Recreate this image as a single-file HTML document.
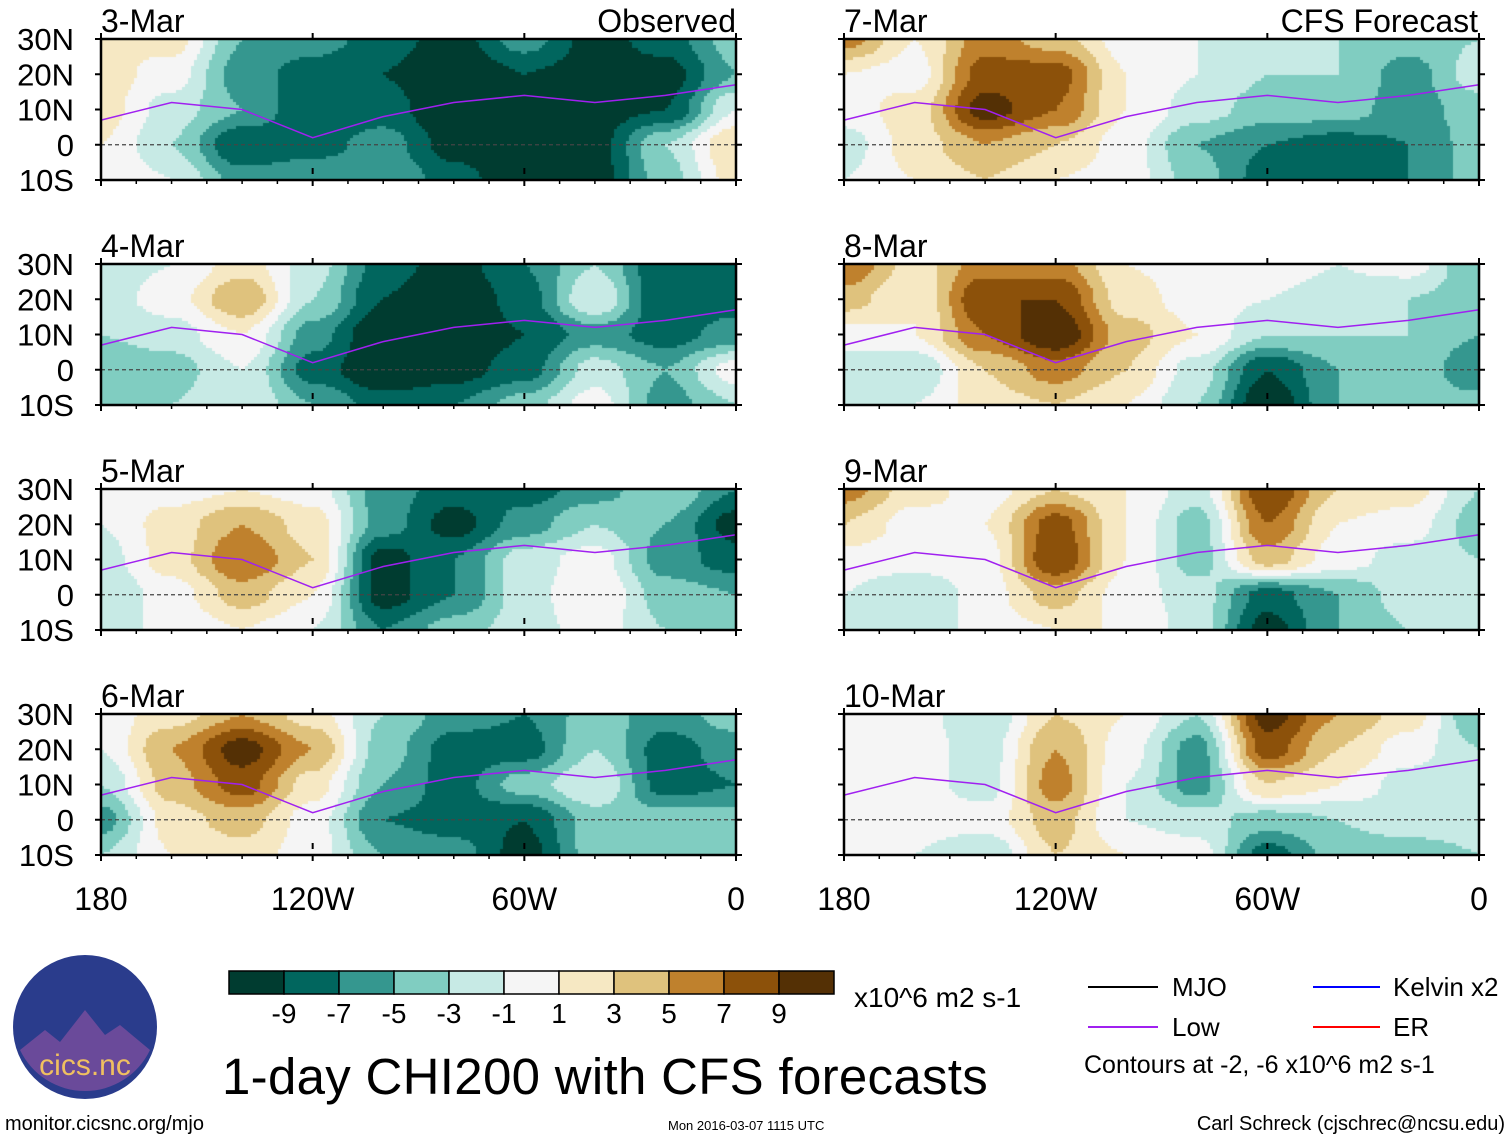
<!DOCTYPE html>
<html><head><meta charset="utf-8">
<style>
body{margin:0;background:#fff;width:1510px;height:1142px;position:relative;overflow:hidden;font-family:"Liberation Sans",sans-serif;}
.t{position:absolute;white-space:nowrap;color:#000;line-height:1;}
canvas{position:absolute;}
</style></head><body>
<canvas id="cv" width="1510" height="1142"></canvas>
<svg id="ov" width="1510" height="1142" style="position:absolute;left:0;top:0"></svg>

<div class="t" style="left:5px;top:1114px;font-size:20px">monitor.cicsnc.org/mjo</div>
<div class="t" style="left:668px;top:1119px;font-size:13px">Mon 2016-03-07 1115 UTC</div>
<div class="t" style="right:5px;top:1114px;font-size:20px">Carl Schreck (cjschrec@ncsu.edu)</div>
<div class="t" style="left:222px;top:1051px;font-size:51px;letter-spacing:0.3px">1-day CHI200 with CFS forecasts</div>
<div class="t" style="left:854px;top:984px;font-size:28px">x10^6 m2 s-1</div>
<div class="t" style="left:1172px;top:974px;font-size:26px">MJO</div>
<div class="t" style="left:1393px;top:974px;font-size:26px">Kelvin x2</div>
<div class="t" style="left:1172px;top:1014px;font-size:26px">Low</div>
<div class="t" style="left:1393px;top:1014px;font-size:26px">ER</div>
<div class="t" style="left:1084px;top:1053px;font-size:25px">Contours at -2, -6 x10^6 m2 s-1</div>

<script>
const lons=[180,160,140,120,100,80,60,40,20,0]; // degrees west
const lats=[30,20,10,0,-10];
const levelLabels=[-9,-7,-5,-3,-1,1,3,5,7,9];
const palette=["#003c30","#01665e","#35978f","#80cdc1","#c7eae5","#f5f5f5","#f6e8c3","#dfc27d","#bf812d","#8c510a","#543005"];
const dayLabels=["3-Mar","4-Mar","5-Mar","6-Mar","7-Mar","8-Mar","9-Mar","10-Mar"];
const p1=[[1,2,-5,-6,-8,-10,-6,-10,-8,-4],[2,0,-6,-8,-9,-11,-9,-10,-10,-5],[2,-2,-5,-9,-8,-11,-10,-10,-9,-1],[1,-3,-9,-8,-6,-10,-11,-10,-3,3],[1,-1,-6,-5,-5,-8,-11,-10,-4,2]];
const p2=[[-2,-1,2,-2,-8,-10,-7,-3,-9,-7],[-2,0,5,-3,-9,-11,-8,-1,-9,-8],[-3,-2,1,-6,-11,-11,-9,-6,-8,-6],[-5,-4,-1,-8,-11,-10,-8,-2,-5,0],[-3,-3,-1,-5,-8,-7,-4,0,-6,-3]];
const p3=[[0,0,1,0,-6,-8,-8,-6,-3,-7],[-1,2,5,2,-6,-10,-6,-3,-5,-10],[-2,2,7,3,-10,-7,-2,0,-6,-8],[-3,0,4,1,-10,-7,-2,1,-4,-5],[-1,-1,1,-1,-7,-4,-2,0,-3,-4]];
const p4=[[0,2,5,2,-3,-6,-7,-4,-6,-4],[-1,5,10,5,-4,-8,-8,-3,-8,-6],[-3,4,8,2,-5,-8,-4,-1,-8,-7],[-6,2,4,0,-7,-8,-9,-4,-4,-4],[-3,1,2,0,-5,-6,-10,-4,-4,-4]];
const p5=[[6,1,6,4,0,-1,-2,-3,-4,-3],[1,0,8,8,1,-1,-3,-3,-6,-2],[0,2,10,7,1,-2,-4,-4,-6,-4],[-2,2,5,3,0,-5,-7,-8,-7,-4],[-1,1,3,1,0,-4,-8,-8,-7,-4]];
const p6=[[7,2,6,6,1,0,0,-1,0,-5],[4,1,9,9,2,0,-1,-2,-3,-4],[0,1,7,11,4,1,-3,-3,-3,-5],[-2,-3,3,6,3,-2,-9,-5,-3,-7],[-1,-1,2,3,1,-3,-11,-5,-4,-4]];
const p7=[[6,2,0,3,1,-2,9,3,2,-3],[3,0,1,8,1,-4,7,1,0,-4],[0,0,0,9,1,-4,4,0,-2,-3],[-1,-3,0,4,0,-2,-8,-5,-2,-3],[-1,-3,0,1,1,-2,-10,-5,-3,-2]];
const p8=[[0,0,-3,3,1,-3,10,5,2,-5],[0,0,-2,5,0,-6,8,3,0,-3],[0,0,-2,6,-1,-6,3,1,-2,-3],[0,0,0,4,-1,-2,-4,-3,-2,-2],[-1,-1,-3,3,1,0,-8,-4,-4,-3]];
const lowLat=[7,12,10,2,8,12,14,12,14,17]; // purple "Low" line latitude per lon
const panels=[p1,p2,p3,p4,p5,p6,p7,p8];

const colX=[101,844], W=635, rowY=[39,264,489,714], H=141;
const ctx=document.getElementById('cv').getContext('2d');
const svg=document.getElementById('ov');
const NS="http://www.w3.org/2000/svg";
function xOf(c,lonW){return colX[c]+(180-lonW)/180*W;}
function yOf(r,lat){return rowY[r]+(30-lat)/40*H;}
function sm(t){return t*t*(3-2*t);}
function val(g,lonW,lat){
  let fi=(180-lonW)/20, fj=(30-lat)/10;
  let i=Math.min(Math.floor(fi),8), j=Math.min(Math.floor(fj),3);
  let a=sm(fi-i),b=sm(fj-j);
  return g[j][i]*(1-a)*(1-b)+g[j][i+1]*a*(1-b)+g[j+1][i]*(1-a)*b+g[j+1][i+1]*a*b;
}
function idx(v){return Math.max(0,Math.min(10,Math.floor((v+11)/2)));}
function mk(tag,attrs,name){const e=document.createElementNS(NS,tag);for(const k in attrs)e.setAttribute(k,attrs[k]);
  
  
  svg.appendChild(e);return e;}
function txt(x,y,s,size,anchor,name){const e=mk('text',{x:x,y:y,'font-size':size,'text-anchor':anchor,'font-family':'Liberation Sans, sans-serif'},name);e.textContent=s;return e;}

panels.forEach((g,p)=>{
  const c=p<4?0:1, r=p%4;
  const step=3;
  for(let px=0;px<W;px+=step){for(let py=0;py<H;py+=step){
    const lonW=180-(px+step/2)/W*180, lat=30-(py+step/2)/H*40;
    ctx.fillStyle=palette[idx(val(g,lonW,lat))];
    ctx.fillRect(colX[c]+px,rowY[r]+py,step,step);
  }}
  let d=lons.map((l,i)=>(i?'L':'M')+xOf(c,l).toFixed(1)+','+yOf(r,lowLat[i]).toFixed(1)).join(' ');
  mk('path',{d:d,fill:'none',stroke:'#a020f0','stroke-width':1.5},'low-contour');
  mk('line',{x1:colX[c],x2:colX[c]+W,y1:yOf(r,0),y2:yOf(r,0),stroke:'#444','stroke-dasharray':'4,3','stroke-width':1.2},'equator-line');
  mk('rect',{x:colX[c],y:rowY[r],width:W,height:H,fill:'none',stroke:'#000','stroke-width':2.5},'panel-frame');
  for(let l=0;l<=180;l+=60){const x=xOf(c,l);
    mk('line',{x1:x,x2:x,y1:rowY[r]-6,y2:rowY[r]+H+6,stroke:'#000','stroke-width':2,'stroke-dasharray':'6,'+(H-12)+',6'},'x-tick');}
  for(let l=170;l>=0;l-=10){if(l%60){const x=xOf(c,l);
    mk('line',{x1:x,x2:x,y1:rowY[r]+H,y2:rowY[r]+H+4,stroke:'#000','stroke-width':1.5},'x-minor-tick');}}
  lats.forEach(la=>{const y=yOf(r,la);
    mk('line',{x1:colX[c]-6,x2:colX[c],y1:y,y2:y,stroke:'#000','stroke-width':2},'y-tick');
    mk('line',{x1:colX[c]+W,x2:colX[c]+W+6,y1:y,y2:y,stroke:'#000','stroke-width':2},'y-tick');
    if(c===0) txt(74,y+11,la>0?la+'N':la<0?(-la)+'S':'0',31,'end','y-tick-label');
  });
  txt(colX[c],rowY[r]-7,dayLabels[p],32,'start','day-label');
});
txt(736,32,'Observed',32,'end','observed-header');
txt(1478,32,'CFS Forecast',32,'end','forecast-header');
[0,1].forEach(c=>{[180,120,60,0].forEach(l=>{
  txt(xOf(c,l),910,l===180?'180':l===0?'0':l+'W',32,'middle','x-tick-label');});});
palette.forEach((col,i)=>{mk('rect',{x:229+i*55,y:971,width:55,height:23,fill:col,stroke:'#000','stroke-width':1.5},'colorbar-box');});
levelLabels.forEach((v,i)=>{txt(229+(i+1)*55,1023,String(v),28,'middle','colorbar-label');});
mk('line',{x1:1088,x2:1158,y1:987,y2:987,stroke:'#000','stroke-width':2},'legend-mjo-line');
mk('line',{x1:1313,x2:1380,y1:987,y2:987,stroke:'#0000ff','stroke-width':2},'legend-kelvin-line');
mk('line',{x1:1088,x2:1158,y1:1027,y2:1027,stroke:'#a020f0','stroke-width':2},'legend-low-line');
mk('line',{x1:1313,x2:1380,y1:1027,y2:1027,stroke:'#ff0000','stroke-width':2},'legend-er-line');
mk('circle',{cx:85,cy:1027,r:72,fill:'#2a3c8c'},'cics-logo');
mk('path',{d:'M20,1050 L45,1030 L60,1042 L85,1010 L105,1035 L120,1025 L150,1050 A72,72 0 0 1 20,1050Z',fill:'#6a4a9a'},'logo-mountains');
const lt=txt(85,1075,'cics.nc',30,'middle','logo-text');lt.setAttribute('fill','#f0c060');
</script>
</body></html>
